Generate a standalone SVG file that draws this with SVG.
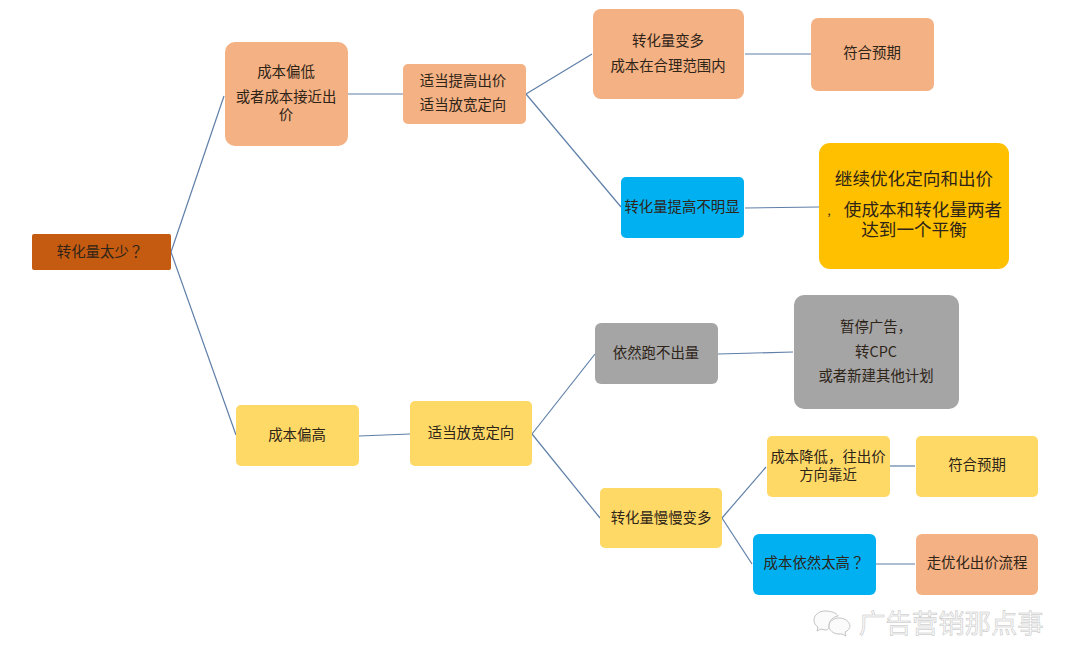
<svg xmlns="http://www.w3.org/2000/svg" width="1080" height="671" viewBox="0 0 1080 671">
<style>
text{font-family:"Noto Sans CJK SC","Liberation Sans",sans-serif;font-size:14.4px;fill:#2e2418;text-anchor:middle}
.peach{fill:#F4B183}.blue{fill:#00B0F0}.yel{fill:#FFD966}.gold{fill:#FFC000}.gray{fill:#A5A5A5}.root{fill:#C55A11}
#connectors line{stroke:#5f7fa8;stroke-width:1.2;fill:none}
text.big{font-size:17.6px}
text.comma{font-size:11px}
tspan.q{font-family:"Noto Sans CJK TC",sans-serif}
text.wm{font-size:26.4px;fill:#f9f9f9;stroke:#c2c2c2;stroke-width:.5;text-anchor:start}
.ic{fill:#fbfbfb;stroke:#c4c4c4;stroke-width:1}
</style>
<rect width="1080" height="671" fill="#fff"/>
<g id="connectors">
<line x1="171" y1="252" x2="224" y2="96"/>
<line x1="171" y1="252" x2="236" y2="435"/>
<line x1="348" y1="94" x2="403" y2="94"/>
<line x1="526" y1="94" x2="592" y2="54"/>
<line x1="526" y1="94" x2="621" y2="207"/>
<line x1="745" y1="54" x2="811" y2="54"/>
<line x1="745" y1="208" x2="819" y2="207"/>
<line x1="359" y1="436" x2="410" y2="434"/>
<line x1="532" y1="434" x2="595" y2="354"/>
<line x1="532" y1="434" x2="600" y2="518"/>
<line x1="718" y1="354" x2="793" y2="352"/>
<line x1="722" y1="518" x2="766" y2="467"/>
<line x1="722" y1="518" x2="752" y2="564"/>
<line x1="890" y1="466" x2="915" y2="466"/>
<line x1="876" y1="564" x2="915" y2="564"/>
</g>
<g id="n-root"><rect class="root" x="32" y="234" width="139" height="36" rx="2"/><text x="100" y="257">转化量太少<tspan class="q">？</tspan></text></g>
<g id="n-low"><rect class="peach" x="225" y="42" width="123" height="104" rx="10"/><text x="286" y="77">成本偏低</text><text x="286" y="102">或者成本接近出</text><text x="286" y="120">价</text></g>
<g id="n-raise"><rect class="peach" x="403" y="64" width="123" height="60" rx="5"/><text x="463" y="86">适当提高出价</text><text x="463" y="110">适当放宽定向</text></g>
<g id="n-more"><rect class="peach" x="593" y="9" width="151" height="90" rx="8"/><text x="668" y="46">转化量变多</text><text x="668" y="71">成本在合理范围内</text></g>
<g id="n-ok1"><rect class="peach" x="811" y="18" width="123" height="73" rx="7"/><text x="872" y="58">符合预期</text></g>
<g id="n-flat"><rect class="blue" x="621" y="177" width="123" height="61" rx="5"/><text x="682" y="212">转化量提高不明显</text></g>
<g id="n-opt"><rect class="gold" x="819" y="143" width="190" height="126" rx="11"/><text class="big" x="914" y="185">继续优化定向和出价</text><text class="comma" x="829" y="215">,</text><text class="big" x="923" y="216">使成本和转化量两者</text><text class="big" x="914" y="236">达到一个平衡</text></g>
<g id="n-high"><rect class="yel" x="236" y="405" width="123" height="61" rx="5"/><text x="297" y="440">成本偏高</text></g>
<g id="n-widen"><rect class="yel" x="410" y="401" width="122" height="65" rx="5"/><text x="471" y="438">适当放宽定向</text></g>
<g id="n-none"><rect class="gray" x="595" y="323" width="123" height="61" rx="6"/><text x="656" y="358">依然跑不出量</text></g>
<g id="n-pause"><rect class="gray" x="794" y="295" width="165" height="114" rx="10"/><text x="876" y="332">暂停广告，</text><text x="876" y="357">转CPC</text><text x="876" y="381">或者新建其他计划</text></g>
<g id="n-slow"><rect class="yel" x="600" y="488" width="122" height="60" rx="5"/><text x="661" y="523">转化量慢慢变多</text></g>
<g id="n-down"><rect class="yel" x="767" y="436" width="123" height="61" rx="5"/><text x="828" y="462">成本降低，往出价</text><text x="828" y="480">方向靠近</text></g>
<g id="n-ok2"><rect class="yel" x="916" y="436" width="122" height="61" rx="5"/><text x="977" y="470">符合预期</text></g>
<g id="n-still"><rect class="blue" x="753" y="534" width="123" height="61" rx="6"/><text x="814" y="568">成本依然太高<tspan class="q">？</tspan></text></g>
<g id="n-flow"><rect class="peach" x="916" y="534" width="122" height="61" rx="6"/><text x="977" y="568">走优化出价流程</text></g>
<g id="watermark">
<path class="ic" d="M825 611c-6 0-11 4-11 9 0 3 1 5 4 7l-1 4 4-2c1 0 3 1 4 1 3 0 3-1 4-2-1-6 3-11 9-12-1-3-7-5-13-5z"/>
<path class="ic" d="M839 618c-6 0-10 4-10 8s4 8 10 8c1 0 2 0 3 0l4 2-1-4c3-1 5-4 5-6 0-4-5-8-11-8z"/>
<text class="wm" x="859" y="633">广告营销那点事</text>
</g>
</svg>
